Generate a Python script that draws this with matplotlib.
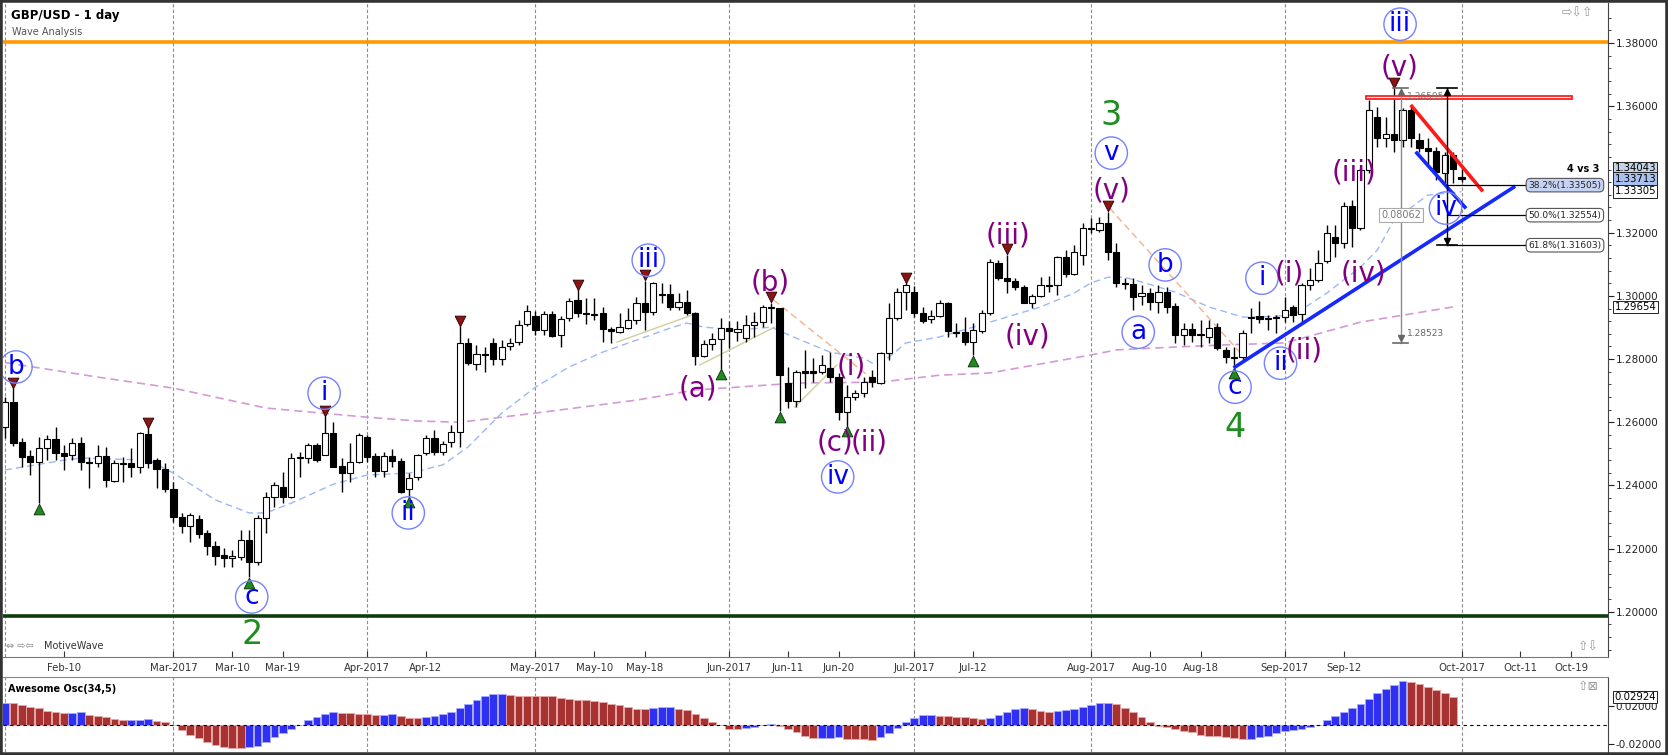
import numpy as np
import matplotlib
matplotlib.use("Agg")
import matplotlib.pyplot as plt
import matplotlib.transforms as mtransforms
from matplotlib.patches import Rectangle
from matplotlib.ticker import FixedLocator

plt.rcParams["font.family"] = ["DejaVu Sans"]

# ---- daily GBP/USD bars, bar 0 = 1 Feb 2017 (weekdays only) ----
opens = [
    1.2585, 1.2664, 1.2537, 1.2493, 1.2474, 1.2518, 1.2547, 1.2502, 1.2496, 1.2534,
    1.2474, 1.2471, 1.2493, 1.2414, 1.2471, 1.2471, 1.2458, 1.2563, 1.2480, 1.2452,
    1.2388, 1.2300, 1.2271, 1.2293, 1.2249, 1.2208, 1.2180, 1.2170, 1.2173, 1.2227,
    1.2157, 1.2297, 1.2363, 1.2395, 1.2363, 1.2490, 1.2487, 1.2528, 1.2496, 1.2566,
    1.2461, 1.2439, 1.2474, 1.2553, 1.2493, 1.2446, 1.2493, 1.2477, 1.2388, 1.2427,
    1.2502, 1.2550, 1.2506, 1.2537, 1.2569, 1.2851, 1.2784, 1.2816, 1.2851, 1.2800,
    1.2841, 1.2854, 1.2911, 1.2936, 1.2892, 1.2942, 1.2876, 1.2929, 1.2987, 1.2945,
    1.2942, 1.2945, 1.2895, 1.2885, 1.2898, 1.2923, 1.2977, 1.2949, 1.3006, 1.3006,
    1.2964, 1.2980, 1.2945, 1.2809, 1.2847, 1.2863, 1.2898, 1.2885, 1.2866, 1.2907,
    1.2917, 1.2964, 1.2961, 1.2724, 1.2667, 1.2762, 1.2762, 1.2759, 1.2771, 1.2743,
    1.2632, 1.2680, 1.2692, 1.2743, 1.2724, 1.2819, 1.2929, 1.3012, 1.3012, 1.2945,
    1.2926, 1.2936, 1.2977, 1.2887, 1.2885, 1.2854, 1.2888, 1.2945, 1.3104, 1.3056,
    1.3047, 1.3028, 1.2977, 1.2999, 1.3034, 1.3034, 1.3123, 1.3069, 1.3129, 1.3214,
    1.3208, 1.3230, 1.3139, 1.3040, 1.3037, 1.2999, 1.3009, 1.2980, 1.3012, 1.2968,
    1.2876, 1.2895, 1.2879, 1.2870, 1.2901, 1.2828, 1.2806, 1.2806, 1.2933, 1.2936,
    1.2926, 1.2933, 1.2933, 1.2964, 1.2942, 1.3034, 1.3050, 1.3110, 1.3186, 1.3167,
    1.3284, 1.3215, 1.3398, 1.3566, 1.3499, 1.3512, 1.3493, 1.3588, 1.3493, 1.3468,
    1.3458, 1.3389, 1.3445, 1.3376,
]
highs = [
    1.2680, 1.2708, 1.2550, 1.2512, 1.2553, 1.2559, 1.2585, 1.2528, 1.2550, 1.2553,
    1.2490, 1.2528, 1.2521, 1.2480, 1.2490, 1.2518, 1.2569, 1.2582, 1.2487, 1.2471,
    1.2411, 1.2313, 1.2313, 1.2306, 1.2258, 1.2224, 1.2202, 1.2195, 1.2258, 1.2258,
    1.2306, 1.2379, 1.2411, 1.2442, 1.2502, 1.2506, 1.2534, 1.2534, 1.2620, 1.2601,
    1.2487, 1.2534, 1.2566, 1.2559, 1.2502, 1.2506, 1.2515, 1.2487, 1.2439, 1.2499,
    1.2559, 1.2575, 1.2540, 1.2591, 1.2905, 1.2866, 1.2844, 1.2838, 1.2866, 1.2860,
    1.2866, 1.2923, 1.2971, 1.2952, 1.2952, 1.2952, 1.2936, 1.2993, 1.3018, 1.2993,
    1.2993, 1.2964, 1.2901, 1.2945, 1.2961, 1.2996, 1.3048, 1.3044, 1.3040, 1.3038,
    1.3009, 1.3018, 1.2949, 1.2860, 1.2882, 1.2929, 1.2920, 1.2920, 1.2939, 1.2949,
    1.2970, 1.2978, 1.2961, 1.2775, 1.2765, 1.2828, 1.2803, 1.2813, 1.2822, 1.2756,
    1.2718, 1.2702, 1.2743, 1.2765, 1.2822, 1.2977, 1.3025, 1.3040, 1.3030, 1.2964,
    1.2955, 1.2987, 1.2980, 1.2914, 1.2933, 1.2914, 1.2955, 1.3116, 1.3113, 1.3130,
    1.3056, 1.3034, 1.3006, 1.3059, 1.3062, 1.3126, 1.3145, 1.3161, 1.3230, 1.3246,
    1.3249, 1.3267, 1.3167, 1.3056, 1.3056, 1.3034, 1.3025, 1.3034, 1.3028, 1.2977,
    1.2914, 1.2914, 1.2923, 1.2923, 1.2914, 1.2838, 1.2838, 1.2892, 1.2961, 1.2983,
    1.2939, 1.2939, 1.2996, 1.2971, 1.3040, 1.3088, 1.3145, 1.3224, 1.3224, 1.3297,
    1.3303, 1.3404, 1.3620, 1.3598, 1.3566, 1.3657, 1.3594, 1.3601, 1.3515, 1.3499,
    1.3471, 1.3455, 1.3455, 1.3404,
]
lows = [
    1.2550, 1.2525, 1.2458, 1.2433, 1.2344, 1.2480, 1.2480, 1.2448, 1.2480, 1.2448,
    1.2392, 1.2458, 1.2395, 1.2411, 1.2411, 1.2427, 1.2439, 1.2455, 1.2392, 1.2379,
    1.2284, 1.2249, 1.2221, 1.2233, 1.2180, 1.2148, 1.2142, 1.2142, 1.2164, 1.2109,
    1.2148, 1.2249, 1.2331, 1.2344, 1.2360, 1.2427, 1.2471, 1.2474, 1.2496, 1.2458,
    1.2379, 1.2411, 1.2471, 1.2474, 1.2427, 1.2427, 1.2458, 1.2376, 1.2365, 1.2417,
    1.2496, 1.2496, 1.2496, 1.2521, 1.2521, 1.2781, 1.2765, 1.2759, 1.2781, 1.2781,
    1.2828, 1.2844, 1.2904, 1.2876, 1.2876, 1.2870, 1.2838, 1.2920, 1.2933, 1.2911,
    1.2923, 1.2854, 1.2851, 1.2882, 1.2895, 1.2911, 1.2892, 1.2939, 1.2977, 1.2955,
    1.2955, 1.2939, 1.2781, 1.2806, 1.2828, 1.2770, 1.2835, 1.2857, 1.2854, 1.2870,
    1.2901, 1.2914, 1.2635, 1.2645, 1.2648, 1.2708, 1.2727, 1.2752, 1.2727, 1.2607,
    1.2589, 1.2670, 1.2680, 1.2711, 1.2721, 1.2797, 1.2923, 1.2955, 1.2933, 1.2914,
    1.2914, 1.2933, 1.2870, 1.2870, 1.2844, 1.2812, 1.2882, 1.2939, 1.3050, 1.3009,
    1.3018, 1.2977, 1.2961, 1.2996, 1.3012, 1.3002, 1.3059, 1.3066, 1.3097, 1.3199,
    1.3202, 1.3113, 1.3028, 1.3021, 1.2955, 1.2971, 1.2955, 1.2945, 1.2945, 1.2851,
    1.2844, 1.2854, 1.2838, 1.2851, 1.2828, 1.2787, 1.2774, 1.2797, 1.2882, 1.2914,
    1.2892, 1.2882, 1.2917, 1.2917, 1.2917, 1.3018, 1.3044, 1.3104, 1.3123, 1.3151,
    1.3154, 1.3208, 1.3389, 1.3471, 1.3471, 1.3455, 1.3471, 1.3471, 1.3455, 1.3408,
    1.3366, 1.3357, 1.3357, 1.3360,
]
closes = [
    1.2664, 1.2534, 1.2490, 1.2474, 1.2518, 1.2547, 1.2502, 1.2493, 1.2534, 1.2474,
    1.2471, 1.2493, 1.2417, 1.2471, 1.2468, 1.2458, 1.2566, 1.2471, 1.2452, 1.2388,
    1.2300, 1.2271, 1.2306, 1.2246, 1.2208, 1.2176, 1.2170, 1.2176, 1.2227, 1.2157,
    1.2297, 1.2363, 1.2401, 1.2363, 1.2487, 1.2487, 1.2528, 1.2480, 1.2566, 1.2458,
    1.2439, 1.2474, 1.2559, 1.2490, 1.2446, 1.2493, 1.2477, 1.2379, 1.2423, 1.2496,
    1.2550, 1.2506, 1.2531, 1.2569, 1.2851, 1.2787, 1.2816, 1.2813, 1.2800, 1.2838,
    1.2851, 1.2907, 1.2952, 1.2892, 1.2942, 1.2873, 1.2926, 1.2983, 1.2945, 1.2942,
    1.2939, 1.2895, 1.2888, 1.2901, 1.2923, 1.2977, 1.2949, 1.3040, 1.3002, 1.2964,
    1.2980, 1.2945, 1.2809, 1.2847, 1.2863, 1.2898, 1.2888, 1.2895, 1.2907, 1.2917,
    1.2964, 1.2961, 1.2749, 1.2667, 1.2759, 1.2756, 1.2756, 1.2781, 1.2743, 1.2632,
    1.2680, 1.2692, 1.2727, 1.2727, 1.2819, 1.2929, 1.3012, 1.3034, 1.2945, 1.2920,
    1.2936, 1.2977, 1.2888, 1.2884, 1.2854, 1.2892, 1.2945, 1.3107, 1.3056, 1.3047,
    1.3028, 1.2977, 1.2999, 1.3034, 1.3031, 1.3123, 1.3069, 1.3139, 1.3214, 1.3211,
    1.3230, 1.3139, 1.3040, 1.3037, 1.2996, 1.3009, 1.2980, 1.3012, 1.2964, 1.2876,
    1.2895, 1.2876, 1.2876, 1.2898, 1.2835, 1.2806, 1.2803, 1.2882, 1.2930, 1.2926,
    1.2929, 1.2930, 1.2955, 1.2939, 1.3034, 1.3050, 1.3104, 1.3199, 1.3167, 1.3284,
    1.3215, 1.3398, 1.3588, 1.3499, 1.3512, 1.3493, 1.3588, 1.3499, 1.3468, 1.3458,
    1.3392, 1.3445, 1.3401, 1.3371,
]

# moving averages (bar index, price)
ma_fast_x = [0, 7, 9, 17, 20, 25, 29, 31, 34, 39, 43, 48, 52, 55, 59, 63, 67, 71, 75, 79,
             81, 83, 87, 91, 94, 98, 102, 103, 105, 107, 111, 115, 119, 123, 127, 129, 131,
             133, 135, 139, 143, 147, 149, 153, 157, 161, 163, 165, 169, 173]
ma_fast = [1.2449, 1.2480, 1.2487, 1.2480, 1.2439, 1.2354, 1.2313, 1.2313, 1.2344, 1.2404,
           1.2433, 1.2439, 1.2465, 1.2522, 1.2629, 1.2711, 1.2775, 1.2822, 1.2860, 1.2898,
           1.2914, 1.2901, 1.2892, 1.2901, 1.2866, 1.2822, 1.2803, 1.2787, 1.2806, 1.2851,
           1.2870, 1.2901, 1.2933, 1.2965, 1.3009, 1.3041, 1.3059, 1.3059, 1.3044, 1.3012,
           1.2965, 1.2933, 1.2933, 1.2939, 1.3009, 1.3091, 1.3145, 1.3240, 1.3319, 1.3330]
ma_slow_x = [0, 11, 20, 31, 43, 49, 54, 63, 75, 82, 94, 104, 111, 117, 129, 132, 139, 144,
             152, 161, 172]
ma_slow = [1.2789, 1.2743, 1.2708, 1.2645, 1.2616, 1.2604, 1.2600, 1.2629, 1.2670, 1.2702,
           1.2724, 1.2727, 1.2749, 1.2756, 1.2813, 1.2829, 1.2838, 1.2844, 1.2851, 1.2917,
           1.2965]

# Awesome Oscillator (34,5)
ao = [
    0.0232, 0.0228, 0.0207, 0.0189, 0.0179, 0.0151, 0.0137, 0.0123, 0.0126, 0.0133,
    0.0109, 0.0091, 0.0084, 0.0063, 0.0055, 0.0056, 0.0057, 0.0058, 0.0042, 0.0032,
    -0.0003, -0.0049, -0.0102, -0.0140, -0.0182, -0.0211, -0.0232, -0.0239, -0.0240, -0.0235,
    -0.0218, -0.0175, -0.0126, -0.0088, -0.0039, 0.0005, 0.0053, 0.0084, 0.0112, 0.0133,
    0.0123, 0.0122, 0.0121, 0.0112, 0.0102, 0.0105, 0.0112, 0.0091, 0.0070, 0.0069,
    0.0081, 0.0091, 0.0112, 0.0133, 0.0179, 0.0221, 0.0267, 0.0302, 0.0326, 0.0330,
    0.0316, 0.0309, 0.0308, 0.0305, 0.0304, 0.0302, 0.0284, 0.0274, 0.0267, 0.0266,
    0.0256, 0.0246, 0.0225, 0.0207, 0.0186, 0.0168, 0.0167, 0.0182, 0.0189, 0.0190,
    0.0172, 0.0161, 0.0119, 0.0070, 0.0032, 0.0005, -0.0039, -0.0042, -0.0032, -0.0021,
    -0.0003, 0.0010, -0.0007, -0.0042, -0.0077, -0.0112, -0.0140, -0.0138, -0.0133, -0.0126,
    -0.0147, -0.0148, -0.0149, -0.0160, -0.0130, -0.0081, -0.0032, 0.0028, 0.0074, 0.0109,
    0.0110, 0.0099, 0.0098, 0.0081, 0.0080, 0.0070, 0.0060, 0.0074, 0.0105, 0.0140,
    0.0168, 0.0179, 0.0168, 0.0151, 0.0140, 0.0151, 0.0158, 0.0168, 0.0189, 0.0211,
    0.0228, 0.0229, 0.0221, 0.0179, 0.0133, 0.0084, 0.0032, -0.0007, -0.0025, -0.0042,
    -0.0060, -0.0077, -0.0102, -0.0119, -0.0120, -0.0130, -0.0140, -0.0147, -0.0144, -0.0130,
    -0.0112, -0.0088, -0.0060, -0.0049, -0.0046, -0.0025, -0.0004, 0.0053, 0.0098, 0.0140,
    0.0179, 0.0218, 0.0277, 0.0337, 0.0375, 0.0425, 0.0463, 0.0453, 0.0435, 0.0404,
    0.0365, 0.0337, 0.0292,
]

peak_bars = [1, 17, 38, 54, 68, 76, 91, 107, 119, 131, 165]
trough_bars = [4, 29, 48, 85, 92, 100, 115, 146]

month_bars = [0, 20, 43, 63, 86, 108, 129, 152, 173]
date_pos = [7, 20, 27, 33, 43, 50, 63, 70, 76, 86, 93, 99, 108, 115, 129, 136, 142, 152,
            159, 173, 180, 186]
date_labels = ["Feb-10", "Mar-2017", "Mar-10", "Mar-19", "Apr-2017", "Apr-12", "May-2017",
               "May-10", "May-18", "Jun-2017", "Jun-11", "Jun-20", "Jul-2017", "Jul-12",
               "Aug-2017", "Aug-10", "Aug-18", "Sep-2017", "Sep-12", "Oct-2017", "Oct-11",
               "Oct-19"]
price_ticks = [1.20, 1.22, 1.24, 1.26, 1.28, 1.30, 1.32, 1.36, 1.38]

resistance = 1.3803
support = 1.1987

# wave labels: (text, bar, price)
minor_waves = [("b", 1.3, 1.2775), ("c", 29.3, 1.2047), ("i", 37.9, 1.2692),
               ("ii", 47.9, 1.2313), ("iii", 76.4, 1.3113), ("iv", 98.9, 1.2427),
               ("v", 131.4, 1.3452), ("a", 134.6, 1.2885), ("b", 137.8, 1.3098),
               ("c", 146.1, 1.2711), ("i", 149.3, 1.3056), ("ii", 151.5, 1.2787),
               ("iii", 165.7, 1.3860), ("iv", 171.1, 1.3278)]
minute_waves = [("(a)", 82.3, 1.2708), ("(b)", 90.9, 1.3041), ("(i)", 100.5, 1.2775),
                ("(c)", 98.6, 1.2537), ("(ii)", 102.6, 1.2537), ("(iii)", 119.1, 1.3192),
                ("(iv)", 121.4, 1.2870), ("(v)", 131.4, 1.3335), ("(i)", 152.5, 1.3072),
                ("(ii)", 154.3, 1.2828), ("(iii)", 160.2, 1.3392), ("(iv)", 161.3, 1.3072),
                ("(v)", 165.7, 1.3724)]
intermediate_waves = [("2", 29.3, 1.1927), ("3", 131.4, 1.3572), ("4", 146.1, 1.2582)]

fib_pcts = ["38.2%", "50.0%", "61.8%"]
fib_levels = [1.33505, 1.32554, 1.31603]
meas_hi, meas_lo, meas_diff = 1.36595, 1.28523, 0.08062

W, H = 1668, 755
fig = plt.figure(figsize=(W / 100, H / 100), dpi=100)
fig.patch.set_facecolor("white")


def fx(x):
    return x / W


def fy(y):
    return 1 - y / H


ax = fig.add_axes([fx(3), fy(657), (1608 - 3) / W, (657 - 3) / H])
axo = fig.add_axes([fx(3), fy(752), (1608 - 3) / W, (752 - 677) / H])
xlim = (-0.24, 190.4)
ax.set_xlim(*xlim)
axo.set_xlim(*xlim)
ax.set_ylim(1.1857, 1.3927)
axo.set_ylim(-0.0284, 0.0505)

for m in month_bars:
    ax.axvline(m, color="#8c8c8c", lw=0.8, ls=(0, (3, 2)), zorder=1)
    axo.axvline(m, color="#8c8c8c", lw=0.8, ls=(0, (3, 2)), zorder=1)

ax.axhline(resistance, color="#ff9900", lw=2.6, zorder=2)
ax.axhline(support, color="#0d3d0d", lw=2.6, zorder=2)

ax.plot(ma_fast_x, ma_fast, color="#9db8f4", lw=1.0, ls=(0, (5, 3)), zorder=2)
ax.plot(ma_slow_x, ma_slow, color="#d49ad4", lw=1.2, ls=(0, (5, 3)), zorder=2)

# candles
o = np.array(opens)
h = np.array(highs)
l = np.array(lows)
c = np.array(closes)
idx = np.arange(len(c))
up = c >= o
ax.vlines(idx, l, h, color="black", lw=1.0, zorder=3)
ax.bar(idx, np.maximum(np.abs(c - o), 0.0003), bottom=np.minimum(o, c), width=0.74,
       color=np.where(up, "white", "black"), edgecolor="black", lw=0.8, zorder=4)

ax.scatter(peak_bars, h[peak_bars] + 0.0017, marker="v", s=60, c="#8b1414",
           edgecolors="#2a0000", linewidths=0.6, zorder=5)
ax.scatter(trough_bars, l[trough_bars] - 0.0017, marker="^", s=60, c="#1f8a1f",
           edgecolors="#0a2a0a", linewidths=0.6, zorder=5)

# drawing tools
olive = "#cfcf9a"
ax.plot([72.7, 82.2], [1.2854, 1.2945], color=olive, lw=1, zorder=2)
ax.plot([82.5, 91.4], [1.2781, 1.2901], color=olive, lw=1, zorder=2)
ax.plot([93.8, 98.8], [1.2648, 1.2781], color=olive, lw=1, zorder=2)
ax.plot([91.3, 103.2], [1.2987, 1.2733], color="#f7b08a", lw=1, ls=(0, (5, 3)), zorder=2)
ax.plot([131.2, 147.5], [1.3278, 1.2797], color="#f7b08a", lw=1, ls=(0, (5, 3)), zorder=2)

ax.plot([146.1, 179.2], [1.2775, 1.3344], color="#1428ff", lw=2.6, zorder=6)
ax.plot([167.7, 173.4], [1.3452, 1.3281], color="#1428ff", lw=2.6, zorder=6)
ax.plot([167.1, 175.4], [1.3600, 1.3335], color="#ff1a1a", lw=2.6, zorder=6)
ax.add_patch(Rectangle((161.6, 1.3623), 24.5, 0.0009, fc="#fff0f0", ec="#ff2020",
                       lw=1.3, zorder=6))

# measure tool
mx = 165.8
ax.plot([mx, mx], [meas_lo, meas_hi], color="#8a8a8a", lw=1, zorder=6)
for yv in (meas_lo, meas_hi):
    ax.plot([mx - 0.9, mx + 0.9], [yv, yv], color="#6a6a6a", lw=1.2, zorder=6)
ax.plot(mx, meas_lo + 0.0013, marker="v", ms=5, color="#666666", zorder=6)
ax.plot(mx, meas_hi - 0.0013, marker="^", ms=5, color="#666666", zorder=6)
ax.text(mx + 0.7, 1.2881, f"{meas_lo:.5f}", fontsize=6.5, color="#666666",
        va="center", ha="left", zorder=7)
ax.text(mx + 0.7, 1.3630, f"{meas_hi:.5f}", fontsize=6.5, color="#777777",
        va="center", ha="left", zorder=7)
ax.text(mx, 1.3256, f"{meas_diff:.5f}", fontsize=7, color="#777777", ha="center",
        va="center", zorder=7,
        bbox=dict(boxstyle="square,pad=0.25", fc="white", ec="#aaaaaa", lw=0.8))

# fibonacci tool
fbx = 171.3
ax.plot([fbx, fbx], [fib_levels[-1], meas_hi], color="black", lw=1, zorder=6)
for yv in (fib_levels[-1], meas_hi):
    ax.plot([fbx - 1.2, fbx + 1.2], [yv, yv], color="black", lw=1.2, zorder=6)
ax.plot(fbx, meas_hi - 0.0013, marker="^", ms=5, color="black", zorder=6)
ax.plot(fbx, fib_levels[-1] + 0.0013, marker="v", ms=5, color="black", zorder=6)
for k, (pct, lev) in enumerate(zip(fib_pcts, fib_levels)):
    ax.plot([fbx, 180.9], [lev, lev], color="black", lw=0.9, zorder=6)
    ax.text(180.95, lev, f"{pct}({lev:.5f})", fontsize=6.5, color="#222222",
            ha="left", va="center", zorder=7,
            bbox=dict(boxstyle="round,pad=0.25,rounding_size=0.5",
                      fc="#c6d2f2" if k == 0 else "white", ec="#555555", lw=0.8))
ax.text(189.4, 1.3403, "4 vs 3", fontsize=7, fontweight="bold", ha="right",
        va="center", zorder=7)

# wave labels
for s, xb, yp in minor_waves:
    ax.text(xb, yp, s, fontsize=19, color="#0000ff", ha="center", va="center",
            zorder=8, clip_on=True,
            bbox=dict(boxstyle="circle,pad=0.12", fc="none", ec="#7482ff", lw=1.0))
for s, xb, yp in minute_waves:
    ax.text(xb, yp, s, fontsize=20, color="#800080", ha="center", va="center", zorder=8)
for s, xb, yp in intermediate_waves:
    ax.text(xb, yp, s, fontsize=24, color="#1e8c1e", ha="center", va="center", zorder=8)

# axes styling (main)
ax.yaxis.tick_right()
ax.set_yticks(price_ticks)
ax.set_yticklabels([f"{v:.5f}" for v in price_ticks])
ax.yaxis.set_minor_locator(FixedLocator(np.arange(1.188, 1.392, 0.004)))
ax.tick_params(axis="y", which="major", length=4, width=0.8, labelsize=7.5, pad=1.5,
               colors="#222222")
ax.tick_params(axis="y", which="minor", length=2, width=0.6, colors="#222222")
ax.set_xticks(date_pos)
ax.set_xticklabels(date_labels)
ax.tick_params(axis="x", direction="in", length=4, width=0.8, labelsize=7.3, pad=4,
               colors="#333333")
for side in ("left", "top"):
    ax.spines[side].set_visible(False)
ax.spines["right"].set_color("#444444")
ax.spines["bottom"].set_color("#777777")

# oscillator
aoa = np.array(ao)
prev = np.r_[aoa[0] - 1, aoa[:-1]]
rising = aoa > prev
axo.bar(np.arange(len(aoa)), aoa, width=0.92,
        color=np.where(rising, "#3030f2", "#a63232"),
        edgecolor=np.where(rising, "#a8acff", "#eaa8a8"), lw=0.6, zorder=3)
axo.axhline(0, color="black", lw=0.8, ls=(0, (3, 3)), zorder=4)
axo.yaxis.tick_right()
axo.set_yticks([-0.02, 0.02])
axo.set_yticklabels(["-0.02000", "0.02000"])
axo.tick_params(axis="y", length=4, width=0.8, labelsize=7.5, pad=1.5, colors="#222222")
axo.set_xticks([])
for side in ("left", "bottom"):
    axo.spines[side].set_visible(False)
axo.spines["right"].set_color("#444444")
axo.spines["top"].set_color("#888888")
axo.text(0.003, 0.84, "Awesome Osc(34,5)", transform=axo.transAxes, fontsize=7,
         fontweight="bold", va="center", ha="left")

# value boxes on the price scale
tr_main = mtransforms.blended_transform_factory(ax.transAxes, ax.transData)
tr_osc = mtransforms.blended_transform_factory(axo.transAxes, axo.transData)
for val, fc in ((1.34043, "#c5d3e6"), (1.33713, "#aac1f0"), (1.33305, "white"),
                (1.29654, "white")):
    ax.text(1.004, val, f"{val:.5f}", transform=tr_main, fontsize=7.3, ha="left",
            va="center", clip_on=False, zorder=9,
            bbox=dict(boxstyle="square,pad=0.12", fc=fc, ec="#222222", lw=0.7))
axo.text(1.004, 0.02924, "0.02924", transform=tr_osc, fontsize=7.3, ha="left",
         va="center", clip_on=False, zorder=9,
         bbox=dict(boxstyle="square,pad=0.12", fc="white", ec="#222222", lw=0.7))

# captions and small icons
fig.text(fx(11), fy(15), "GBP/USD - 1 day", fontsize=8.5, fontweight="bold", va="center")
fig.text(fx(12), fy(32), "Wave Analysis", fontsize=7, color="#555555", va="center")
fig.text(fx(6), fy(646), "\u21d4 \u21e8\u21e6", fontsize=7, color="#888888", va="center")
fig.text(fx(44), fy(646), "MotiveWave", fontsize=7, color="#333333", va="center")
fig.text(fx(1562), fy(13), "\u21e8\u21e9\u21e7", fontsize=9, color="#999999", va="center")
fig.text(fx(1578), fy(647), "\u21e7\u21e9", fontsize=9, color="#999999", va="center")
fig.text(fx(1578), fy(687), "\u21e7\u22a0", fontsize=9, color="#999999", va="center")

fig.add_artist(Rectangle((0, 0), 1, 1, transform=fig.transFigure, fill=False,
                         ec="#333333", lw=4))

fig.savefig("out.png", dpi=100, facecolor="white")
